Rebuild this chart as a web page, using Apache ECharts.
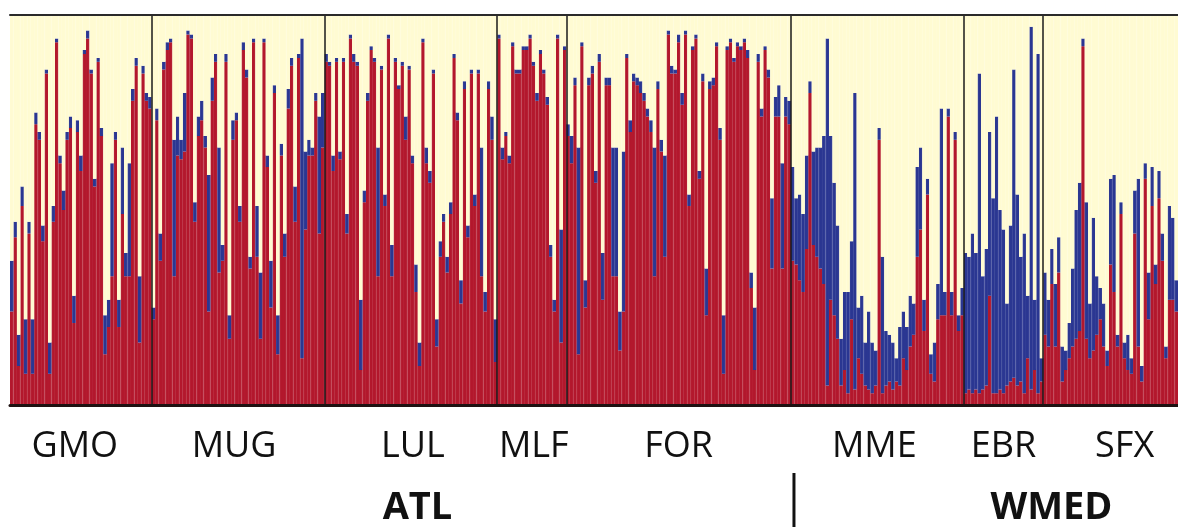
<!DOCTYPE html>
<html><head><meta charset="utf-8">
<script src="https://cdn.jsdelivr.net/npm/echarts@6/dist/echarts.min.js"></script>
<style>html,body{margin:0;padding:0;background:#fff}#c{width:1178px;height:530px}</style>
</head><body><div id="c"></div>
<script>
// ---- data: ancestry proportions (Q) per individual, K=3 (red, blue, cream = remainder)
const populations = ['GMO','MUG','LUL','MLF','FOR','MME','EBR','SFX'];
const regions = ['ATL','WMED'];
const regionPops = [['GMO','MUG','LUL','MLF','FOR'],['MME','EBR','SFX']];

const redGMO=[.24,.43,.10,.51,.08,.44,.08,.72,.68,.42,.85,.08,.47,.93,.62,.50,.68,.71,.21,.70,.60,.90,.94,.85,.56,.88,.69,.13,.20,.33,.68,.20,.49,.33,.33,.78,.87,.16,.85,.78,.76];
const blueGMO=[.13,.04,.08,.05,.14,.03,.14,.03,.02,.04,.01,.08,.04,.01,.02,.05,.02,.03,.07,.03,.04,.01,.02,.01,.02,.01,.02,.10,.07,.29,.02,.07,.17,.06,.29,.03,.02,.17,.02,.02,.03];
const redMUG=[.22,.73,.37,.86,.91,.93,.33,.64,.63,.65,.95,.94,.47,.69,.73,.66,.24,.78,.88,.34,.37,.88,.17,.68,.73,.47,.91,.84,.35,.93,.38,.17,.93,.61,.25,.80,.13,.64,.38,.76,.87,.47,.89,.12,.45,.64,.64,.78,.44,.66];
const blueMUG=[.03,.03,.07,.02,.02,.01,.35,.10,.05,.15,.01,.01,.05,.05,.05,.03,.35,.06,.02,.32,.04,.02,.06,.05,.02,.04,.02,.02,.03,.01,.13,.17,.01,.03,.12,.02,.10,.03,.06,.05,.02,.09,.01,.82,.20,.04,.02,.02,.30,.14];
const redLUL=[.88,.87,.60,.88,.63,.88,.44,.94,.88,.87,.09,.52,.78,.91,.88,.33,.86,.51,.94,.33,.88,.81,.87,.68,.86,.62,.29,.10,.93,.62,.57,.85,.15,.38,.47,.34,.49,.89,.73,.26,.81,.43,.85,.51,.85,.33,.24,.81,.68,.11];
const blueLUL=[.02,.01,.04,.01,.02,.01,.05,.01,.02,.01,.18,.03,.02,.01,.01,.33,.01,.03,.01,.08,.01,.01,.01,.06,.01,.02,.07,.06,.01,.04,.03,.01,.07,.04,.02,.04,.03,.01,.02,.06,.02,.03,.01,.03,.01,.33,.05,.02,.06,.11];
const redMLF=[.94,.63,.69,.62,.92,.85,.85,.91,.91,.94,.87,.78,.90,.85,.77,.38,.24,.94,.16,.91];
const blueMLF=[.01,.03,.01,.02,.01,.01,.01,.01,.01,.01,.01,.02,.01,.01,.02,.03,.03,.01,.29,.01];
const redFOR=[.69,.62,.82,.13,.92,.25,.82,.85,.57,.88,.27,.82,.82,.33,.33,.14,.24,.89,.70,.83,.82,.80,.78,.74,.70,.33,.81,.65,.38,.95,.85,.85,.93,.77,.95,.51,.91,.94,.58,.83,.23,.81,.82,.92,.68,.08,.91,.93,.88,.92,.91,.93,.89,.30,.09,.88,.74,.91,.84,.35,.74,.74,.35,.74,.72];
const blueFOR=[.03,.07,.02,.53,.01,.07,.02,.02,.03,.02,.12,.02,.02,.33,.33,.10,.41,.01,.03,.02,.02,.03,.02,.02,.03,.33,.02,.03,.26,.01,.02,.01,.02,.03,.01,.03,.01,.01,.02,.02,.12,.02,.02,.01,.03,.15,.01,.01,.01,.01,.01,.01,.02,.04,.16,.02,.02,.01,.02,.18,.05,.08,.27,.05,.06];
const redMME=[.37,.36,.32,.29,.40,.80,.41,.38,.35,.31,.05,.27,.23,.17,.05,.09,.03,.22,.04,.12,.08,.05,.04,.03,.05,.68,.03,.05,.06,.04,.06,.05,.12,.09,.15,.18,.38,.45,.19,.54,.08,.06,.22,.23,.23,.74,.23,.68,.19,.23];
const blueMME=[.24,.17,.22,.20,.24,.03,.24,.28,.31,.38,.89,.42,.34,.29,.12,.20,.26,.20,.76,.13,.20,.11,.20,.13,.09,.03,.35,.14,.12,.12,.06,.15,.12,.11,.13,.08,.23,.21,.08,.04,.05,.10,.09,.53,.06,.02,.06,.02,.04,.07];
const redEBR=[.03,.04,.03,.04,.03,.04,.05,.28,.03,.03,.04,.03,.05,.06,.07,.05,.06,.03,.12,.04,.09,.03,.06];
const blueEBR=[.36,.34,.41,.35,.82,.29,.35,.42,.50,.71,.46,.42,.21,.40,.79,.49,.32,.41,.16,.93,.18,.87,.06];
const redSFX=[.18,.15,.31,.15,.34,.06,.09,.12,.15,.17,.19,.92,.17,.12,.14,.18,.22,.15,.10,.36,.29,.15,.49,.12,.09,.08,.44,.15,.06,.58,.22,.51,.31,.53,.37,.12,.27,.27,.24];
const blueSFX=[.16,.12,.09,.16,.09,.09,.05,.09,.20,.33,.38,.02,.35,.14,.34,.15,.08,.11,.04,.22,.30,.03,.03,.04,.09,.04,.11,.43,.04,.04,.12,.10,.05,.07,.07,.03,.24,.21,.08];

const redByPop=[redGMO,redMUG,redLUL,redMLF,redFOR,redMME,redEBR,redSFX];
const blueByPop=[blueGMO,blueMUG,blueLUL,blueMLF,blueFOR,blueMME,blueEBR,blueSFX];

// ---- build series
const cats=[], red=[], blue=[], cream=[], starts=[], counts=[];
let n=0;
populations.forEach((p,i)=>{
  starts.push(n); counts.push(redByPop[i].length);
  redByPop[i].forEach((r,j)=>{
    const b=blueByPop[i][j];
    cats.push(p+' '+(j+1)); red.push(r); blue.push(b);
    cream.push(Math.max(0, +(1-r-b).toFixed(3)));
    n++;
  });
});
const N=n;

// ---- style / layout
const C_RED='#b3182d', C_BLUE='#2b3792', C_CREAM='#fffbd2';
const GRID={left:10,right:0,top:15,bottom:125};
const popLabelShift=[-6,-4,2,2,0,-3,0,14];
const regionLabelShift=[17,67];
const FONT="'Open Sans', 'Noto Sans', sans-serif";

function barSeries(name,data,color){
  return {name,type:'bar',stack:'q',data,barCategoryGap:'0%',silent:true,
    itemStyle:{color,borderColor:color,borderWidth:1.2},animation:false};
}

const chart=echarts.init(document.getElementById('c'),null,{renderer:'canvas'});
chart.setOption({
  backgroundColor:'#ffffff',
  animation:false,
  grid:GRID,
  xAxis:[
    {type:'category',data:cats,boundaryGap:true,position:'bottom',z:5,
     axisLine:{show:true,onZero:false,lineStyle:{color:'#1e1212',width:3}},
     axisTick:{show:false},axisLabel:{show:false},splitLine:{show:false}},
    {type:'value',min:0,max:N,position:'top',z:5,
     axisLine:{show:true,onZero:false,lineStyle:{color:'#2a2a2a',width:2}},
     axisTick:{show:false},axisLabel:{show:false},splitLine:{show:false}}
  ],
  yAxis:{type:'value',min:0,max:1,show:false},
  series:[
    barSeries('red',red,C_RED),
    barSeries('blue',blue,C_BLUE),
    barSeries('cream',cream,C_CREAM),
    {type:'line',xAxisIndex:1,data:[],silent:true,z:4,
     markLine:{symbol:'none',silent:true,animation:false,label:{show:false},
       lineStyle:{color:'#1a1a1a',width:1.5,type:'solid'},
       data:starts.slice(1).map(s=>({xAxis:s}))}}
  ]
});

// ---- labels positioned through the axis scale
const px=v=>chart.convertToPixel({xAxisIndex:1},v);
const g=[];
populations.forEach((p,i)=>{
  g.push({type:'text',x:px(starts[i]+counts[i]/2)+popLabelShift[i],y:447,
    style:{text:p,font:"36px "+FONT,fill:'#111',textAlign:'center',textVerticalAlign:'middle'}});
});
regions.forEach((r,k)=>{
  const idx=regionPops[k].map(p=>populations.indexOf(p));
  const a=starts[idx[0]], b=starts[idx[idx.length-1]]+counts[idx[idx.length-1]];
  g.push({type:'text',x:px((a+b)/2)+regionLabelShift[k],y:508,
    style:{text:r,font:"bold 38px "+FONT,fill:'#111',textAlign:'center',textVerticalAlign:'middle'}});
});
const sep=px(starts[populations.indexOf('MME')])+3;
g.push({type:'line',shape:{x1:sep,y1:473,x2:sep,y2:527},style:{stroke:'#111',lineWidth:3}});
chart.setOption({graphic:g});
</script></body></html>
